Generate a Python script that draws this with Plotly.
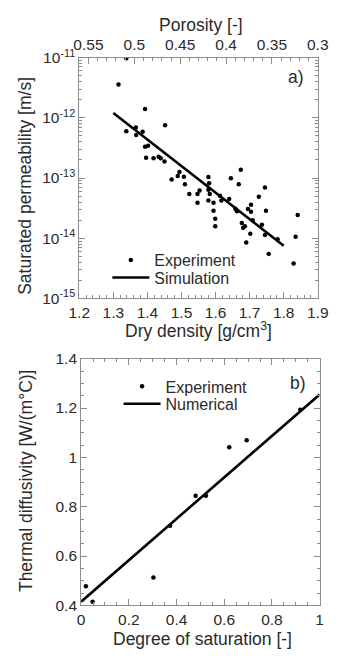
import plotly.graph_objects as go

# ---------------- data ----------------
density_exp = [1.338, 1.315, 1.393, 1.452, 1.338, 1.366, 1.367, 1.386, 1.393, 1.402,
               1.396, 1.418, 1.433, 1.439, 1.450, 1.471, 1.489, 1.494, 1.507, 1.510,
               1.523, 1.547, 1.553, 1.547, 1.579, 1.581, 1.579, 1.583, 1.579, 1.594,
               1.594, 1.599, 1.599, 1.613, 1.617, 1.640, 1.645, 1.658, 1.663, 1.668,
               1.674, 1.677, 1.681, 1.686, 1.690, 1.695, 1.704, 1.704, 1.702, 1.709,
               1.727, 1.736, 1.745, 1.748, 1.745, 1.756, 1.782, 1.835, 1.841, 1.829]
perm_exp = [9.8e-12, 3.57e-12, 1.40e-12, 7.5e-13, 6.0e-13, 6.9e-13, 5.2e-13, 5.9e-13, 3.3e-13, 3.45e-13,
            2.18e-13, 2.13e-13, 2.26e-13, 2.13e-13, 1.88e-13, 9.5e-14, 1.08e-13, 1.26e-13, 1.05e-13, 7.9e-14,
            5.45e-14, 5.45e-14, 6.2e-14, 3.9e-14, 1.04e-13, 8.2e-14, 6.4e-14, 5.45e-14, 4.25e-14, 3.9e-14,
            2.86e-14, 2.1e-14, 1.58e-14, 5.1e-14, 4.25e-14, 4.5e-14, 9.9e-14, 3.1e-14, 2.8e-14, 7.9e-14,
            1.38e-13, 1.79e-14, 1.49e-14, 1.58e-14, 8.5e-15, 3.05e-14, 2.75e-14, 3.6e-14, 1.19e-14, 2.0e-14,
            4.9e-14, 1.68e-14, 7.0e-14, 2.86e-14, 1.13e-14, 5.5e-15, 9.6e-15, 1.06e-14, 2.44e-14, 3.8e-15]
density_sim = [1.3, 1.8]
perm_sim = [1.2e-12, 7.5e-15]

sat_exp = [0.02, 0.048, 0.303, 0.373, 0.48, 0.523, 0.621, 0.694, 0.919]
diff_exp = [0.478, 0.415, 0.513, 0.723, 0.844, 0.844, 1.041, 1.069, 1.193]
sat_num = [0.0, 1.0]
diff_num = [0.415, 1.255]

density_ticks = [1.2, 1.3, 1.4, 1.5, 1.6, 1.7, 1.8, 1.9]
density_ticktext = ["1.2", "1.3", "1.4", "1.5", "1.6", "1.7", "1.8", "1.9"]
porosity_ticks = [0.55, 0.5, 0.45, 0.4, 0.35, 0.3]
porosity_ticktext = ["0.55", "0.5", "0.45", "0.4", "0.35", "0.3"]
perm_ticks = [1e-15, 1e-14, 1e-13, 1e-12, 1e-11]
perm_ticktext = ["10<sup>-15</sup>", "10<sup>-14</sup>", "10<sup>-13</sup>",
                 "10<sup>-12</sup>", "10<sup>-11</sup>"]
perm_minor = [m * 10.0 ** e for e in range(-15, -11) for m in range(2, 10)]
sat_ticks = [0, 0.2, 0.4, 0.6, 0.8, 1]
sat_ticktext = ["0", "0.2", "0.4", "0.6", "0.8", "1"]
diff_ticks = [0.4, 0.6, 0.8, 1.0, 1.2, 1.4]
diff_ticktext = ["0.4", "0.6", "0.8", "1", "1.2", "1.4"]

# ---------------- layout helpers ----------------
W, H = 340, 660
FONT = "Liberation Sans, Arial, sans-serif"
TXT = "#2a2a2a"
FRAME = "#8c8c8c"


def px(x):
    return x / W


def py(y):
    return 1 - y / H


fig = go.Figure()

fig.add_trace(go.Scatter(x=density_exp, y=perm_exp, mode="markers", name="Experiment",
                         marker=dict(color="black", size=4.5), xaxis="x", yaxis="y",
                         legend="legend"))
fig.add_trace(go.Scatter(x=density_sim, y=perm_sim, mode="lines", name="Simulation",
                         line=dict(color="black", width=2.6), xaxis="x", yaxis="y",
                         legend="legend2"))
# invisible carrier so the top porosity axis is drawn
fig.add_trace(go.Scatter(x=porosity_ticks, y=[None] * len(porosity_ticks), mode="markers",
                         xaxis="x2", yaxis="y", showlegend=False, hoverinfo="skip"))
fig.add_trace(go.Scatter(x=sat_exp, y=diff_exp, mode="markers", name="Experiment",
                         marker=dict(color="black", size=4.5), xaxis="x3", yaxis="y3",
                         legend="legend3"))
fig.add_trace(go.Scatter(x=sat_num, y=diff_num, mode="lines", name="Numerical",
                         line=dict(color="black", width=2.6), xaxis="x3", yaxis="y3",
                         legend="legend4"))

tickfont = dict(family=FONT, size=15.5, color=TXT)
common = dict(showgrid=False, zeroline=False, showline=True, linecolor=FRAME, linewidth=1,
              ticks="inside", ticklen=6, tickcolor=FRAME, tickwidth=1, tickfont=tickfont)


def leg(x, y):
    return dict(x=px(x), y=py(y), xanchor="left", yanchor="top",
                bgcolor="rgba(0,0,0,0)", borderwidth=0,
                font=dict(family=FONT, size=16, color=TXT), itemwidth=37)


fig.update_layout(
    width=W, height=H, margin=dict(l=0, r=0, t=0, b=0),
    paper_bgcolor="white", plot_bgcolor="white",
    font=dict(family=FONT, color=TXT),
    xaxis=dict(domain=[px(73), px(328)], anchor="y", range=[1.2, 1.9],
               tickmode="array", tickvals=density_ticks, ticktext=density_ticktext,
               mirror=True,
               minor=dict(ticks="inside", ticklen=3, tickcolor=FRAME, dtick=0.02, tick0=1.2),
               **common),
    xaxis2=dict(overlaying="x", anchor="y", side="top", range=[0.56, 0.30],
                tickmode="array", tickvals=porosity_ticks, ticktext=porosity_ticktext,
                minor=dict(ticks="inside", ticklen=3, tickcolor=FRAME, dtick=0.01, tick0=0.3),
                **common),
    yaxis=dict(domain=[py(296), py(48)], anchor="x", type="log", range=[-15, -11],
               tickmode="array", tickvals=perm_ticks, ticktext=perm_ticktext,
               mirror="ticks",
               minor=dict(ticks="inside", ticklen=3, tickcolor=FRAME,
                          tickmode="array", tickvals=perm_minor),
               **common),
    xaxis3=dict(domain=[px(75), px(330)], anchor="y3", range=[0, 1],
                tickmode="array", tickvals=sat_ticks, ticktext=sat_ticktext,
                mirror="ticks",
                minor=dict(ticks="inside", ticklen=3, tickcolor=FRAME, dtick=0.05, tick0=0),
                **common),
    yaxis3=dict(domain=[py(612), py(358)], anchor="x3", range=[0.4, 1.4],
                tickmode="array", tickvals=diff_ticks, ticktext=diff_ticktext,
                mirror="ticks",
                minor=dict(ticks="inside", ticklen=3, tickcolor=FRAME, dtick=0.05, tick0=0.4),
                **common),
    legend=leg(103, 239),
    legend2=leg(103, 257),
    legend3=leg(115, 369),
    legend4=leg(115, 387),
    showlegend=True,
)

title_font = dict(family=FONT, size=17.5, color=TXT)
annots = [
    dict(text="Porosity [-]", x=px(203), y=py(14)),
    dict(text="Dry density [g/cm<sup>3</sup>]", x=px(200), y=py(328)),
    dict(text="Saturated permeability [m/s]", x=px(15), y=py(180), textangle=-90),
    dict(text="Thermal diffusivity [W/(m°C)]", x=px(16), y=py(483), textangle=-90),
    dict(text="Degree of saturation [-]", x=px(205), y=py(647)),
    dict(text="a)", x=px(305), y=py(68)),
    dict(text="b)", x=px(307), y=py(383)),
]
for a in annots:
    fig.add_annotation(xref="paper", yref="paper", showarrow=False, font=title_font,
                       xanchor="center", yanchor="middle", **a)

fig.write_html("out.html")
